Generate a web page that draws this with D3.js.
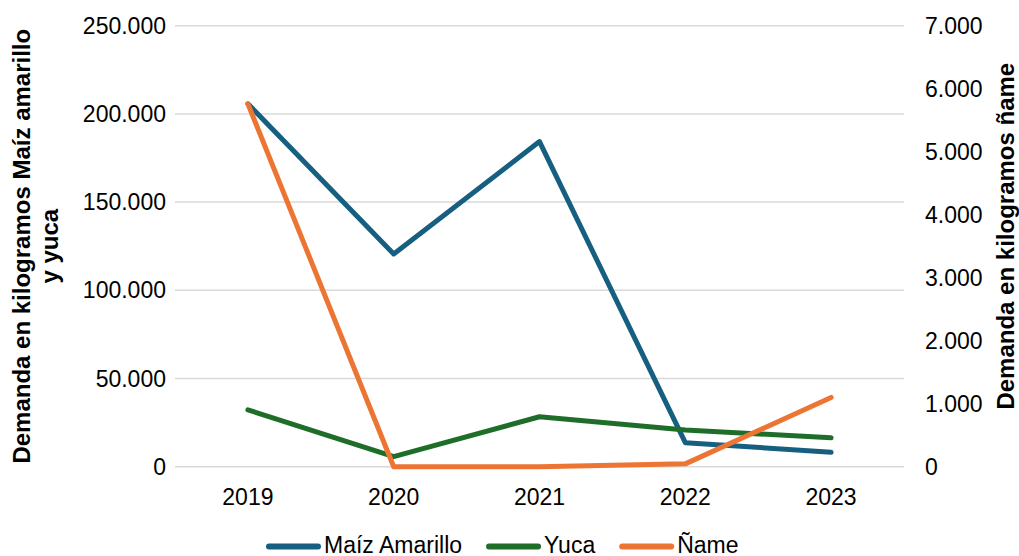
<!DOCTYPE html>
<html>
<head>
<meta charset="utf-8">
<script src="https://cdn.jsdelivr.net/npm/d3@7.9.0/dist/d3.min.js"></script>
<style>
  body { margin: 0; background: #fff; }
  svg { display: block; font-family: "Liberation Sans", Arial, sans-serif; }
</style>
</head>
<body>
<svg id="chart" width="1019" height="556"></svg>
<script>
const years = ["2019", "2020", "2021", "2022", "2023"];
const maiz = [205700, 120600, 184300, 13600, 8200];
const yuca = [32200, 5700, 28300, 20800, 16400];
const name_ = [5760, 0, 0, 45, 1100];
const leftTicks = [0, 50000, 100000, 150000, 200000, 250000];
const rightTicks = [0, 1000, 2000, 3000, 4000, 5000, 6000, 7000];

const series = [
  { label: "Maíz Amarillo", values: maiz, color: "#175f80", axis: "left" },
  { label: "Yuca", values: yuca, color: "#1e6e2a", axis: "left" },
  { label: "Ñame", values: name_, color: "#ed7533", axis: "right" }
];

const svg = d3.select("#chart");
const plot = { left: 175, right: 904, top: 25.7, bottom: 466.7 };

const x = d3.scalePoint().domain(years).range([plot.left, plot.right]).padding(0.5);
const yL = d3.scaleLinear().domain([0, 250000]).range([plot.bottom, plot.top]);
const yR = d3.scaleLinear().domain([0, 7000]).range([plot.bottom, plot.top]);

const fmt = d3.formatLocale({ decimal: ",", thousands: ".", grouping: [3], currency: ["", ""] }).format(",d");

// gridlines
svg.append("g").selectAll("line").data(leftTicks).join("line")
  .attr("x1", plot.left).attr("x2", plot.right)
  .attr("y1", d => yL(d)).attr("y2", d => yL(d))
  .attr("stroke", "#d9d9d9").attr("stroke-width", 1.5);

// left axis labels
svg.append("g").selectAll("text").data(leftTicks).join("text")
  .attr("x", 166).attr("y", d => yL(d)).attr("dy", "0.35em")
  .attr("text-anchor", "end").attr("font-size", 23).attr("fill", "#000")
  .text(d => fmt(d));

// right axis labels
svg.append("g").selectAll("text").data(rightTicks).join("text")
  .attr("x", 925).attr("y", d => yR(d)).attr("dy", "0.35em")
  .attr("text-anchor", "start").attr("font-size", 23).attr("fill", "#000")
  .text(d => fmt(d));

// x labels
svg.append("g").selectAll("text").data(years).join("text")
  .attr("x", d => x(d)).attr("y", 505)
  .attr("text-anchor", "middle").attr("font-size", 23).attr("fill", "#000")
  .text(d => d);

// axis titles
const midY = (plot.top + plot.bottom) / 2;
const lt = svg.append("text")
  .attr("transform", `translate(29.5, ${midY}) rotate(-90)`)
  .attr("text-anchor", "middle").attr("font-size", 24).attr("font-weight", "bold");
lt.append("tspan").attr("x", 0).attr("y", 0).text("Demanda en kilogramos Maíz amarillo");
lt.append("tspan").attr("x", 0).attr("y", 28.8).text("y yuca");

svg.append("text")
  .attr("transform", `translate(1014, ${midY - 10}) rotate(-90)`)
  .attr("text-anchor", "middle").attr("font-size", 24).attr("font-weight", "bold")
  .text("Demanda en kilogramos ñame");

// lines
series.forEach(s => {
  const y = s.axis === "left" ? yL : yR;
  const line = d3.line().x((d, i) => x(years[i])).y(d => y(d));
  svg.append("path")
    .attr("d", line(s.values))
    .attr("fill", "none").attr("stroke", s.color)
    .attr("stroke-width", 5).attr("stroke-linejoin", "round").attr("stroke-linecap", "round");
});

// legend
const legend = svg.append("g");
let lx = 267;
series.forEach(s => {
  legend.append("line")
    .attr("x1", lx + 2).attr("x2", lx + 51).attr("y1", 546.5).attr("y2", 546.5)
    .attr("stroke", s.color).attr("stroke-width", 6).attr("stroke-linecap", "round");
  const t = legend.append("text")
    .attr("x", lx + 57).attr("y", 553).attr("font-size", 23).attr("fill", "#000")
    .text(s.label);
  lx += 57 + t.node().getComputedTextLength() + 25;
});
</script>
</body>
</html>
